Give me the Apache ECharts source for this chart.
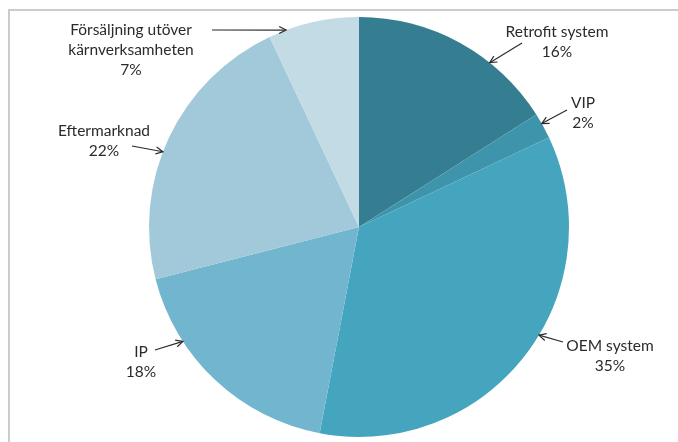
<!DOCTYPE html>
<html>
<head>
<meta charset="utf-8">
<script src="https://cdn.jsdelivr.net/npm/echarts@6/dist/echarts.min.js"></script>
<style>
  html, body { margin: 0; padding: 0; background: #fff; }
  #chart { width: 678px; height: 442px; }
</style>
</head>
<body>
<div id="chart"></div>
<script>
// Slice data, clockwise from 12 o'clock
const categories = ['Retrofit system', 'VIP', 'OEM system', 'IP', 'Eftermarknad', 'Försäljning utöver\nkärnverksamheten'];
const shares = [16, 2, 35, 18, 22, 7];
const colors = ['#357d91', '#3e95ab', '#46a5be', '#71b6ce', '#a1c9da', '#c3dbe5'];

// Where each label sits and where its arrow starts / hits the pie rim
const labelPlacement = [
    { pos: [557, 42],  tail: [522, 43],  tipAngle: 38.5 },
    { pos: [583, 113], tail: [567, 110], tipAngle: 60.5 },
    { pos: [610, 356], tail: [563, 342], tipAngle: 121 },
    { pos: [141, 362], tail: [155, 350], tipAngle: 237 },
    { pos: [104, 141], tail: [132, 146], tipAngle: 291 },
    { pos: [131, 50],  tail: [212, 30],  tipAngle: 339.7 }
];

const pieCenter = [359, 227];
const pieRadius = 210;

function rimPoint(angleDeg) {
    const a = angleDeg * Math.PI / 180;
    return [pieCenter[0] + pieRadius * Math.sin(a), pieCenter[1] - pieRadius * Math.cos(a)];
}

// Open arrowhead at the rim end of each pointer line
function arrowHeads() {
    return labelPlacement.map(p => {
        const tip = rimPoint(p.tipAngle);
        const dx = tip[0] - p.tail[0];
        const dy = tip[1] - p.tail[1];
        const len = Math.sqrt(dx * dx + dy * dy);
        const ux = dx / len, uy = dy / len;
        const back = 7, half = 3.5;
        return {
            type: 'polyline',
            silent: true,
            z: 10,
            shape: {
                points: [
                    [tip[0] - ux * back - uy * half, tip[1] - uy * back + ux * half],
                    tip,
                    [tip[0] - ux * back + uy * half, tip[1] - uy * back - ux * half]
                ]
            },
            style: { stroke: '#2b2b2b', lineWidth: 1.2, fill: null }
        };
    });
}

function initPieChart() {
    const chartDom = document.getElementById('chart');
    const chart = echarts.init(chartDom);

    const option = {
        animation: false,
        color: colors,
        graphic: [
            {
                type: 'rect',
                silent: true,
                shape: { x: 9, y: 10, width: 720, height: 480 },
                style: { stroke: '#cccccc', lineWidth: 2, fill: null }
            }
        ].concat(arrowHeads()),
        series: [{
            type: 'pie',
            center: pieCenter,
            radius: pieRadius,
            startAngle: 90,
            clockwise: true,
            avoidLabelOverlap: false,
            itemStyle: { borderWidth: 0 },
            emphasis: { disabled: true },
            label: {
                show: true,
                position: 'outside',
                formatter: p => p.name + '\n' + p.value + '%',
                fontFamily: 'Lato',
                fontSize: 15.5,
                lineHeight: 20,
                color: '#2b2b2b',
                align: 'center'
            },
            labelLine: {
                show: true,
                lineStyle: { color: '#2b2b2b', width: 1.2 }
            },
            labelLayout: params => {
                const p = labelPlacement[params.dataIndex];
                return {
                    x: p.pos[0],
                    y: p.pos[1],
                    align: 'center',
                    verticalAlign: 'middle',
                    labelLinePoints: [rimPoint(p.tipAngle), p.tail, p.tail]
                };
            },
            data: categories.map((name, i) => ({ name: name, value: shares[i] }))
        }]
    };

    chart.setOption(option);
    window.addEventListener('resize', chart.resize);
}

document.addEventListener('DOMContentLoaded', initPieChart);
</script>
</body>
</html>
